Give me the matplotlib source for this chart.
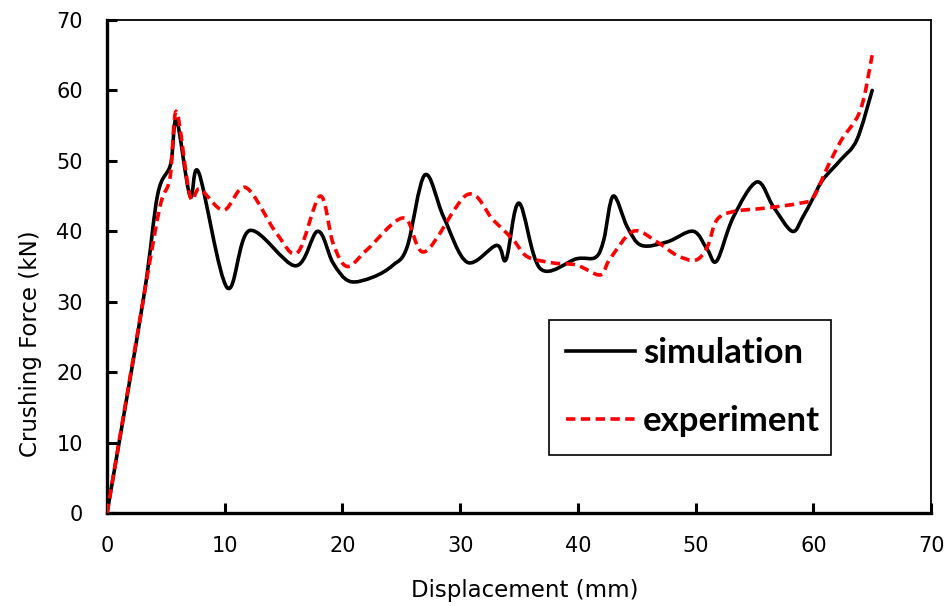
import numpy as np
import matplotlib
matplotlib.use("Agg")
import matplotlib.pyplot as plt
from matplotlib.path import Path
from matplotlib.patches import PathPatch
from matplotlib.lines import Line2D

# ---- data ----
sim_x = [0, 3.1, 4.3, 5.4, 5.9, 7.05, 7.8, 10.2, 12.1, 16.0, 17.9, 19.2, 20.6, 22.6, 24.3,
         25.5, 27.0, 28.6, 30.6, 33.1, 33.9, 35.0, 36.8, 39.9, 41.5, 42.2, 43.0, 44.2, 45.4,
         47.6, 49.8, 51.0, 51.8, 53.2, 55.2, 56.6, 58.2, 59.1, 60.0, 60.8, 62.3, 63.7, 65.0]
sim_y = [0, 30.5, 45.2, 49.5, 55.8, 45.0, 48.3, 32.0, 40.1, 35.1, 40.0, 35.5, 32.9, 33.5, 35.2,
         37.8, 48.0, 42.0, 35.6, 38.0, 36.0, 44.0, 34.7, 36.1, 36.3, 38.8, 45.0, 40.6, 38.0,
         38.5, 40.0, 37.4, 35.8, 42.0, 47.0, 43.5, 40.0, 42.0, 44.8, 47.3, 50.1, 53.0, 60.0]

exp_x = [0, 3.1, 4.5, 5.35, 5.9, 7.05, 7.9, 9.9, 11.8, 14.4, 16.2, 18.1, 19.2, 20.4, 22.1,
         25.2, 27.0, 30.6, 32.8, 34.5, 35.7, 37.9, 39.9, 41.9, 42.7, 44.7, 46.7, 48.4, 50.0,
         51.0, 51.8, 53.2, 56.0, 58.9, 60.0, 61.2, 62.4, 64.0, 65.0]
exp_y = [0, 30.5, 43.5, 47.6, 57.0, 45.0, 46.0, 43.0, 46.2, 39.7, 37.0, 45.0, 38.3, 35.0, 37.4,
         41.9, 37.1, 45.2, 41.6, 38.8, 36.4, 35.5, 35.2, 33.8, 36.0, 40.0, 38.5, 36.6, 35.9,
         37.8, 41.6, 42.8, 43.3, 44.0, 44.8, 49.1, 53.0, 57.2, 65.0]

labels = ["simulation", "experiment"]
x_ticks = [0, 10, 20, 30, 40, 50, 60, 70]
y_ticks = [0, 10, 20, 30, 40, 50, 60, 70]


def smooth_path(xs, ys):
    """Excel-style smoothed line: cubic Bezier through the points."""
    p = np.column_stack([xs, ys]).astype(float)
    n = len(p)
    verts = [p[0]]
    codes = [Path.MOVETO]
    for i in range(n - 1):
        p0 = p[i - 1] if i > 0 else p[i]
        p1 = p[i]
        p2 = p[i + 1]
        p3 = p[i + 2] if i + 2 < n else p[i + 1]
        c1 = p1 + (p2 - p0) / 6.0
        c2 = p2 - (p3 - p1) / 6.0
        verts += [c1, c2, p2]
        codes += [Path.CURVE4] * 3
    return Path(verts, codes)


fig = plt.figure(figsize=(9.48, 6.06), dpi=100)
ax = fig.add_axes([0.1129, 0.1535, 0.8692, 0.8135])

lw = 2.6
dash = (0, (2.6, 1.5))
ax.add_patch(PathPatch(smooth_path(sim_x, sim_y), fill=False, edgecolor="black",
                       lw=lw, capstyle="round", joinstyle="round", zorder=3))
ax.add_patch(PathPatch(smooth_path(exp_x, exp_y), fill=False, edgecolor="#ff0000",
                       lw=lw, linestyle=dash, capstyle="butt", zorder=4))

ax.set_xlim(0, 70)
ax.set_ylim(0, 70)
ax.set_xticks(x_ticks)
ax.set_yticks(y_ticks)

tick_font = dict(family="DejaVu Sans", size=15)
ax.set_xticklabels([str(t) for t in x_ticks], **tick_font)
ax.set_yticklabels([str(t) for t in y_ticks], **tick_font)
ax.tick_params(direction="in", length=7, width=2.2, colors="black")
ax.tick_params(axis="x", pad=16.5)
ax.tick_params(axis="y", pad=17.5)

for s in ["left", "bottom"]:
    ax.spines[s].set_linewidth(2.4)
for s in ["top", "right"]:
    ax.spines[s].set_linewidth(1.3)

ax.set_xlabel("Displacement (mm)", family="DejaVu Sans", size=16.5)
ax.set_ylabel("Crushing Force (kN)", family="DejaVu Sans", size=16.5)
ax.xaxis.set_label_coords(0.507, -0.134)
ax.yaxis.set_label_coords(-0.079, 0.343)

handles = [Line2D([], [], color="black", lw=lw),
           Line2D([], [], color="#ff0000", lw=lw, linestyle=dash)]
leg = ax.legend(handles, labels, loc="lower left",
                bbox_to_anchor=(0.536, 0.118, 0.343, 0.276), mode="expand",
                borderaxespad=0, frameon=True, fancybox=False, edgecolor="black",
                prop=dict(family="Lato", weight="bold", size=25),
                handlelength=2.0, handletextpad=0.22, labelspacing=1.05, borderpad=0.5)
leg.get_frame().set_linewidth(1.2)
leg.get_frame().set_alpha(None)

fig.savefig("out.png", dpi=100)
